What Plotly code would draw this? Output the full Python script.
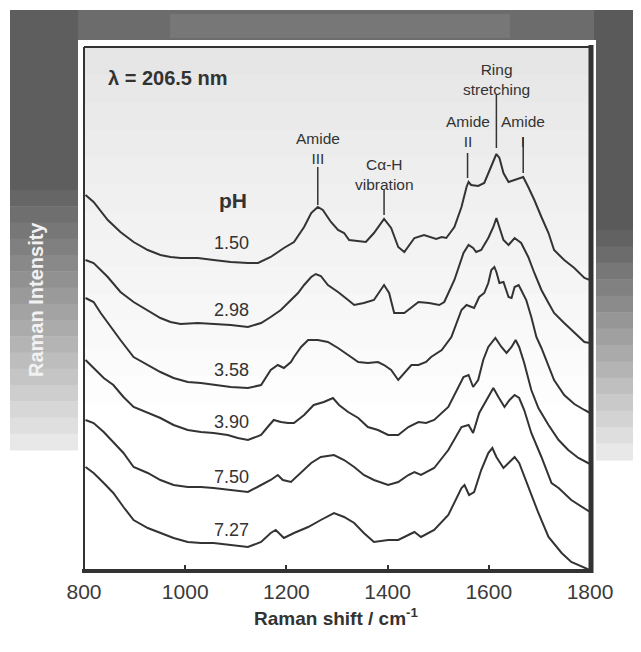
import plotly.graph_objects as go

# ---------------- data ----------------
ph_labels = ["1.50", "2.98", "3.58", "3.90", "7.50", "7.27"]
tick_vals = [800, 1000, 1200, 1400, 1600, 1800]
tick_text = ["800", "1000", "1200", "1400", "1600", "1800"]

shift_ph150 = [803, 819, 847, 872, 898, 926, 951, 971, 991, 1025, 1056, 1090, 1124, 1144,
               1169, 1195, 1215, 1235, 1249, 1262, 1272, 1288, 1302, 1314, 1324, 1348, 1357,
               1373, 1393, 1407, 1421, 1433, 1453, 1472, 1482, 1496, 1507, 1516, 1532, 1546,
               1556, 1560, 1565, 1579, 1591, 1605, 1615, 1621, 1629, 1639, 1649, 1659, 1668,
               1678, 1690, 1704, 1718, 1729, 1749, 1769, 1789, 1800]
int_ph150 = [376, 369, 351, 339, 329, 321, 316, 314, 313, 313, 311, 309, 308, 308,
             314, 323, 329, 344, 358, 364, 361, 349, 341, 338, 331, 330, 329,
             338, 352, 343, 324, 319, 333, 336, 334, 332, 334, 333, 344, 364,
             384, 389, 386, 385, 388, 404, 417, 413, 398, 389, 391, 393, 394,
             384, 371, 354, 338, 321, 311, 303, 293, 291]

shift_ph298 = [803, 819, 847, 872, 898, 926, 951, 971, 991, 1025, 1056, 1090, 1124, 1150,
               1169, 1189, 1203, 1223, 1235, 1249, 1258, 1268, 1282, 1302, 1322, 1334, 1353,
               1373, 1393, 1403, 1413, 1433, 1461, 1482, 1502, 1512, 1532, 1550, 1560, 1569,
               1575, 1585, 1599, 1609, 1615, 1621, 1629, 1639, 1651, 1664, 1678, 1690, 1704,
               1718, 1729, 1749, 1769, 1789, 1800]
int_ph298 = [311, 308, 294, 279, 269, 261, 253, 249, 247, 248, 247, 246, 244, 248,
             254, 261, 268, 278, 286, 294, 297, 295, 286, 279, 271, 266, 268,
             271, 286, 278, 258, 258, 269, 268, 266, 269, 291, 318, 326, 323,
             319, 321, 333, 344, 353, 344, 331, 326, 333, 328, 314, 298, 281,
             268, 258, 248, 239, 229, 228]

shift_ph358 = [803, 819, 833, 847, 872, 898, 926, 951, 977, 1005, 1031, 1056, 1090, 1124,
               1150, 1169, 1183, 1195, 1209, 1215, 1229, 1243, 1262, 1282, 1302, 1322, 1342,
               1361, 1381, 1393, 1407, 1421, 1433, 1447, 1461, 1476, 1486, 1507, 1526, 1546,
               1556, 1565, 1571, 1581, 1591, 1599, 1605, 1611, 1615, 1621, 1629, 1639, 1645,
               1651, 1659, 1664, 1674, 1684, 1694, 1704, 1718, 1729, 1749, 1769, 1789, 1800]
int_ph358 = [273, 269, 258, 248, 231, 214, 206, 199, 193, 189, 188, 186, 184, 183,
             186, 201, 206, 203, 209, 214, 224, 231, 231, 229, 223, 216, 209,
             208, 209, 206, 201, 191, 198, 206, 206, 209, 214, 221, 234, 261,
             266, 264, 263, 274, 278, 288, 301, 304, 299, 288, 289, 274, 273,
             284, 286, 281, 271, 254, 234, 223, 206, 191, 176, 167, 161, 158]

shift_ph390 = [803, 819, 839, 858, 878, 898, 926, 951, 977, 1005, 1031, 1056, 1084, 1104,
               1124, 1150, 1163, 1175, 1189, 1203, 1215, 1235, 1254, 1274, 1292, 1304, 1322,
               1342, 1361, 1381, 1401, 1421, 1441, 1461, 1476, 1492, 1520, 1540, 1550, 1560,
               1569, 1579, 1589, 1599, 1613, 1625, 1635, 1645, 1653, 1660, 1670, 1684, 1698,
               1718, 1738, 1757, 1777, 1800]
int_ph390 = [211, 203, 193, 186, 174, 164, 158, 153, 146, 141, 139, 138, 136, 133,
             131, 136, 144, 151, 149, 148, 148, 156, 166, 169, 173, 166, 159,
             153, 144, 141, 136, 136, 144, 149, 148, 151, 164, 184, 194, 196,
             184, 191, 211, 224, 233, 224, 218, 224, 231, 224, 208, 181, 163,
             146, 131, 121, 113, 107]

shift_ph750 = [803, 819, 839, 858, 878, 898, 926, 951, 977, 1005, 1031, 1056, 1090, 1124,
               1150, 1169, 1183, 1193, 1209, 1229, 1249, 1268, 1294, 1314, 1334, 1353, 1373,
               1401, 1421, 1441, 1453, 1466, 1492, 1520, 1546, 1560, 1569, 1581, 1599, 1609,
               1619, 1631, 1641, 1651, 1660, 1670, 1684, 1704, 1724, 1738, 1763, 1800]
int_ph750 = [151, 148, 139, 129, 118, 104, 98, 91, 86, 84, 84, 83, 81, 79,
             86, 91, 96, 91, 89, 98, 108, 114, 116, 111, 104, 96, 91,
             86, 89, 96, 99, 96, 103, 121, 144, 146, 138, 158, 174, 183,
             174, 164, 171, 176, 173, 161, 138, 114, 88, 83, 71, 59]

shift_ph727 = [803, 819, 839, 858, 878, 898, 926, 951, 977, 1005, 1031, 1056, 1090, 1124,
               1150, 1169, 1179, 1195, 1215, 1243, 1268, 1294, 1314, 1334, 1353, 1373, 1401,
               1421, 1441, 1453, 1466, 1492, 1520, 1546, 1552, 1561, 1571, 1585, 1599, 1607,
               1615, 1629, 1639, 1651, 1660, 1678, 1698, 1718, 1744, 1763, 1800]
int_ph727 = [104, 98, 88, 78, 64, 51, 43, 38, 33, 29, 28, 28, 26, 24,
             29, 38, 41, 33, 38, 44, 51, 58, 54, 48, 38, 29, 31,
             31, 36, 39, 34, 41, 56, 83, 86, 76, 79, 101, 118, 123,
             114, 103, 108, 114, 108, 84, 58, 34, 18, 9, 1]

band_names = ["Amide<br>III", "Cα-H<br>vibration", "Amide<br>II", "Ring<br>stretching", "Amide<br>I"]
band_shift = [1262, 1393, 1558, 1615, 1668]

# ---------------- layout helpers (positions / styles) ----------------
OFF = 8                      # page body margin of the html page
W, H = 641 - OFF, 652 - OFF
ML, MR, MT, MB = 84 - OFF, 51, 47 - OFF, 81
PW, PH = W - ML - MR, H - MT - MB
INK = "#333333"
FONT = "Liberation Sans, Arial, Helvetica, sans-serif"


def px(p):
    """reference-screen x pixel -> paper fraction"""
    return (p - OFF - ML) / PW


def py(p):
    """reference-screen y pixel -> paper fraction"""
    return (H - MB - (p - OFF)) / PH


series = [
    (shift_ph150, int_ph150), (shift_ph298, int_ph298), (shift_ph358, int_ph358),
    (shift_ph390, int_ph390), (shift_ph750, int_ph750), (shift_ph727, int_ph727),
]

fig = go.Figure()
for (xs, ys), name in zip(series, ph_labels):
    fig.add_trace(go.Scatter(x=xs, y=ys, mode="lines", name="pH " + name,
                             line=dict(color=INK, width=2), showlegend=False,
                             hoverinfo="skip"))

shapes = []


def rect(x0, y0, x1, y1, color):
    shapes.append(dict(type="rect", xref="paper", yref="paper",
                       x0=px(x0), x1=px(x1), y0=py(y1), y1=py(y0),
                       fillcolor=color, line=dict(width=0), layer="below"))


def vgrad(x0, x1, y0, y1, g0, g1, steps):
    """vertical grey ramp drawn as thin bands (scan shading)"""
    for i in range(steps):
        a = y0 + (y1 - y0) * i / steps
        b = y0 + (y1 - y0) * (i + 1) / steps + 0.5
        g = int(round(g0 + (g1 - g0) * i / max(steps - 1, 1)))
        rect(x0, a, x1, b, "rgb(%d,%d,%d)" % (g, g, g))


# scanned-page background
rect(10, 10, 641, 42, "#6c6c6c")
rect(170, 14, 510, 38, "#777777")
rect(10, 10, 78, 190, "#5e5e5e")
vgrad(10, 78, 190, 450, 0x66, 0xe8, 16)
rect(594, 10, 641, 230, "#5a5a5a")
vgrad(594, 641, 230, 460, 0x62, 0xe8, 14)
rect(78, 40, 596, 580, "#ffffff")
# speckled light interior of the box
vgrad(85, 589, 48, 430, 0xe6, 0xff, 14)


def fline(x0, y0, x1, y1, w):
    shapes.append(dict(type="line", xref="paper", yref="paper", x0=px(x0), x1=px(x1),
                       y0=py(y0), y1=py(y1), line=dict(color=INK, width=w), layer="above"))


# frame of the plot box
fline(84, 47, 84, 571, 2)
fline(84, 47, 591, 47, 2)
fline(591, 45, 591, 573, 5)
fline(82, 571, 593, 571, 4)

# band marker lines (data coordinates)
mark_top = [404, 381, 418, 476, 434]
mark_bot = [366, 356, 393, 423, 398]
for xs, y0, y1 in zip(band_shift, mark_bot, mark_top):
    shapes.append(dict(type="line", xref="x", yref="y", x0=xs, x1=xs, y0=y0, y1=y1,
                       line=dict(color=INK, width=1.5)))

annotations = []
label_y = [423, 397, 440, 492, 440]
for name, xs, yy in zip(band_names, band_shift, label_y):
    annotations.append(dict(x=xs, y=yy, xref="x", yref="y", text=name, showarrow=False,
                            font=dict(family=FONT, size=15.5, color=INK),
                            xanchor="center", yanchor="middle", align="center"))

ph_y = [328, 261, 201, 149, 94, 41]
for t, yy in zip(ph_labels, ph_y):
    annotations.append(dict(x=1092, y=yy, xref="x", yref="y", text=t, showarrow=False,
                            font=dict(family=FONT, size=18, color=INK),
                            xanchor="center", yanchor="middle"))

annotations.append(dict(x=1095, y=371, xref="x", yref="y", text="<b>pH</b>", showarrow=False,
                        font=dict(family=FONT, size=21, color=INK),
                        xanchor="center", yanchor="middle"))
annotations.append(dict(x=px(106), y=py(78), xref="paper", yref="paper",
                        text="<b>λ = 206.5 nm</b>", showarrow=False,
                        font=dict(family=FONT, size=20, color=INK),
                        xanchor="left", yanchor="middle"))
annotations.append(dict(x=px(36), y=py(300), xref="paper", yref="paper",
                        text="<b>Raman Intensity</b>", showarrow=False, textangle=-90,
                        font=dict(family=FONT, size=20, color="#f2f2f2"),
                        xanchor="center", yanchor="middle"))
annotations.append(dict(x=px(336), y=py(617), xref="paper", yref="paper",
                        text="<b>Raman shift / cm<sup>-1</sup></b>", showarrow=False,
                        font=dict(family=FONT, size=19, color=INK),
                        xanchor="center", yanchor="middle"))

fig.update_layout(
    width=W, height=H,
    margin=dict(l=ML, r=MR, t=MT, b=MB, pad=0),
    paper_bgcolor="#ffffff", plot_bgcolor="rgba(0,0,0,0)",
    shapes=shapes, annotations=annotations,
    xaxis=dict(range=[800, 1800], tickvals=tick_vals, ticktext=tick_text,
               ticks="inside", ticklen=6, tickwidth=1.5, tickcolor=INK,
               showgrid=False, zeroline=False, showline=False,
               tickfont=dict(family=FONT, size=21, color="#3a3a3a"), ticklabelstandoff=6),
    yaxis=dict(range=[0, 524], showticklabels=False, ticks="", showgrid=False,
               zeroline=False, showline=False),
    font=dict(family=FONT),
)

fig.write_html("out.html")
